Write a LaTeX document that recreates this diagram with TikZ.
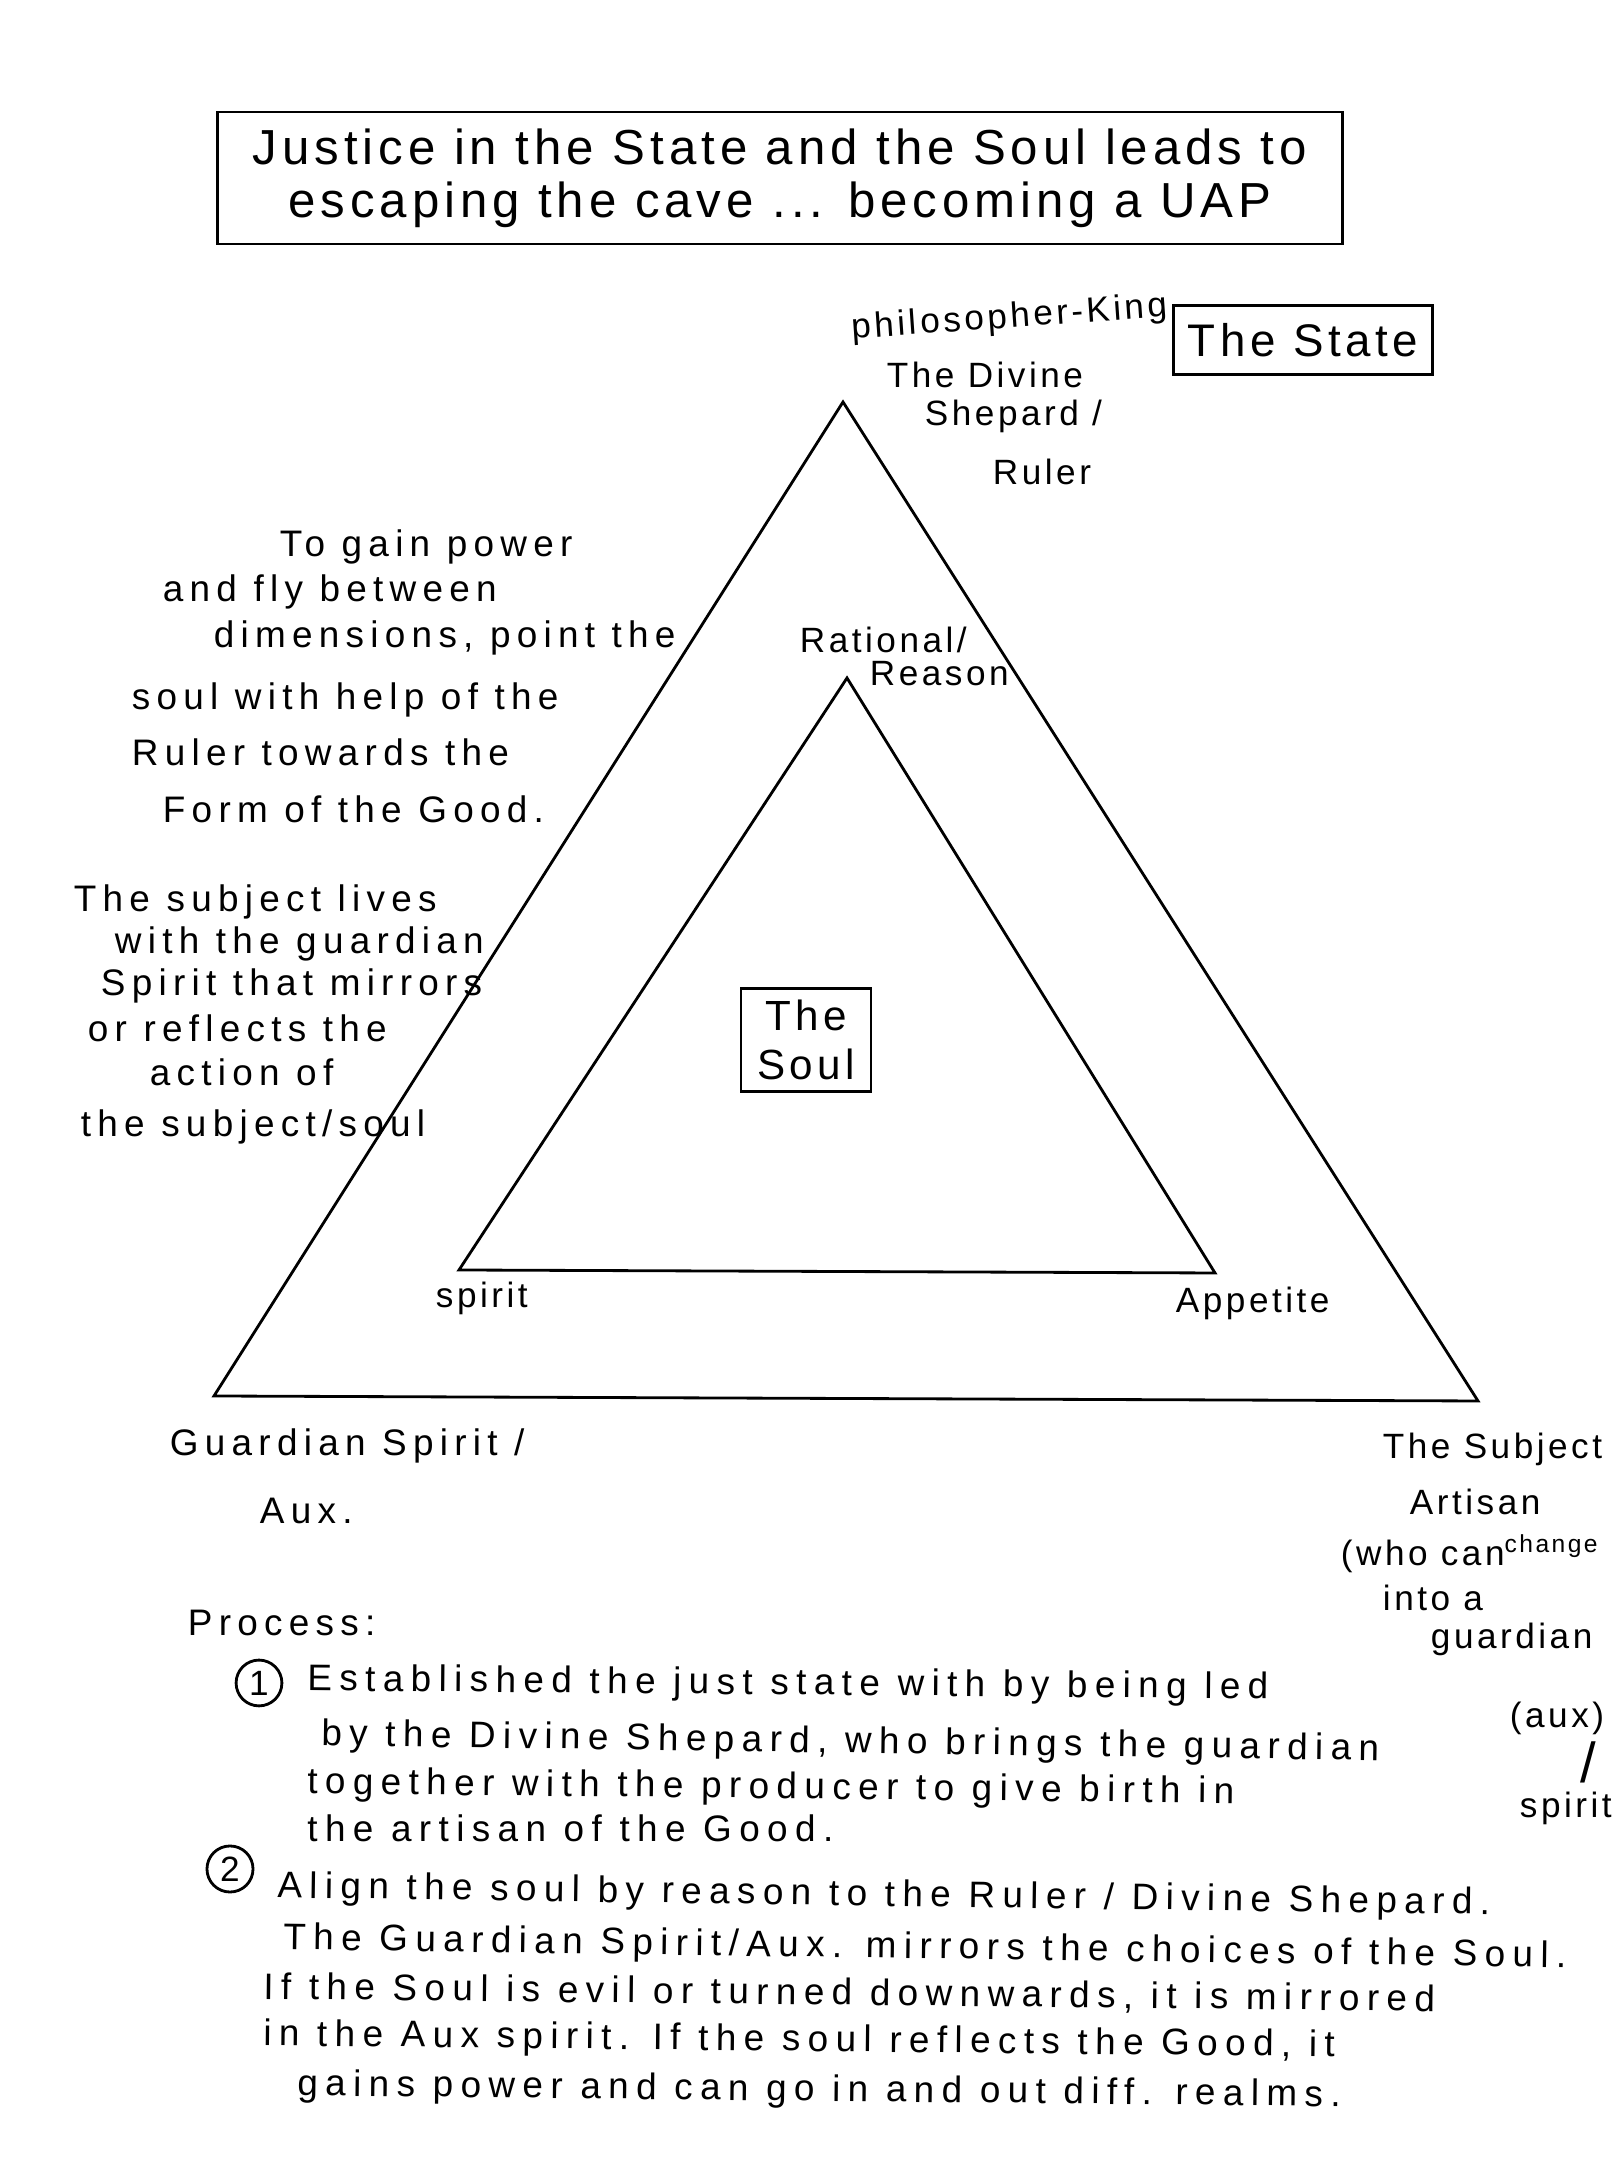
\documentclass[tikz,border=0pt]{standalone}
\usepackage{fontspec}
\setmainfont[LetterSpace=10]{Liberation Sans}
\newfontfamily\handfont[LetterSpace=17]{Liberation Sans}
\newfontfamily\longhand[LetterSpace=20]{Liberation Sans}
\usepackage{tikz}

\begin{document}
\begin{tikzpicture}[x=1cm,y=1cm,line width=0.8pt,
    note/.style={anchor=west,inner sep=0pt,font=\longhand\fontsize{10.5}{12}\selectfont},
    side note/.style={anchor=west,inner sep=1pt,font=\handfont\fontsize{10.5}{12}\selectfont},
    small note/.style={anchor=west,inner sep=1pt,font=\fontsize{10}{12}\selectfont},
    framed/.style={draw,align=center,inner sep=3pt}]

        \useasboundingbox (0,0) rectangle (16.2,21.6);

        % ------------------------------------------------ title
        \node[framed,minimum width=11.25cm,minimum height=1.32cm,
              font=\fontsize{14}{15}\selectfont] (title) at (7.8,19.82)
        {Justice in the State and the Soul leads to\\escaping the cave ... becoming a UAP};

        % ------------------------------------------------ the state (outer triangle)
        \coordinate (king)     at (8.43,17.58);
        \coordinate (guardian) at (2.14,7.64);
        \coordinate (subject)  at (14.78,7.59);
        \draw (king) -- (subject) -- (guardian) -- cycle;

        \node[framed,minimum width=2.59cm,minimum height=0.69cm,
              font=\fontsize{13}{15}\selectfont] (state) at (13.03,18.2) {The State};
        \node[small note,rotate=4] (philking) at (8.47,18.30) {philosopher-King};
        \node[small note] (divine)  at (8.82,17.85) {The Divine};
        \node[small note] (shepard) at (9.20,17.44) {Shepard /};
        \node[small note] (ruler)   at (9.88,16.88) {Ruler};

        % ------------------------------------------------ the soul (inner triangle)
        \coordinate (reason)   at (8.47,14.82);
        \coordinate (spirit)   at (4.59,8.90);
        \coordinate (appetite) at (12.15,8.87);
        \draw (reason) -- (appetite) -- (spirit) -- cycle;

        \node[framed,minimum width=1.3cm,minimum height=1.03cm,
              font=\fontsize{12}{14}\selectfont] (soul) at (8.06,11.2) {The\\Soul};
        \node[small note] (rational)  at (7.95,15.20) {Rational/};
        \node[small note] (reasonlbl) at (8.65,14.86) {Reason};
        \node[small note] (spiritlbl) at (4.31,8.62)  {spirit};
        \node[small note] (appetlbl)  at (11.71,8.57) {Appetite};

        % ------------------------------------------------ corner labels
        \node[side note] (guard1) at (1.65,7.14) {Guardian Spirit /};
        \node[side note] (guard2) at (2.55,6.49) {Aux.};

        \node[small note] (subj1) at (13.78,7.11) {The Subject};
        \node[small note] (subj2) at (14.05,6.58) {Artisan};
        \node[small note] (subj3) at (13.36,6.06) {(who can\textsuperscript{change}};
        \node[small note] (subj4) at (13.78,5.62) {into a};
        \node[small note] (subj5) at (14.26,5.21) {guardian};

        % ------------------------------------------------ side notes
        \node[side note] (gain1) at (2.75,16.13) {To gain power};
        \node[side note] (gain2) at (1.58,15.68) {and fly between};
        \node[side note] (gain3) at (2.09,15.22) {dimensions, point the};
        \node[side note] (gain4) at (1.27,14.60) {soul with help of the};
        \node[side note] (gain5) at (1.27,14.08) {Ruler towards the};
        \node[side note] (gain6) at (1.58,13.51) {Form of the Good.};

        \node[side note] (lives1) at (0.69,12.58) {The subject lives};
        \node[side note] (lives2) at (1.10,12.16) {with the guardian};
        \node[side note] (lives3) at (0.96,11.74) {Spirit that mirrors};
        \node[side note] (lives4) at (0.83,11.32) {or reflects the};
        \node[side note] (lives5) at (1.45,10.88) {action of};
        \node[side note] (lives6) at (0.76,10.33) {the subject/soul};

        % ------------------------------------------------ process
        \node[side note] (process) at (1.83,5.37) {Process:};

        \node[draw,circle,inner sep=1.5pt,font=\fontsize{10}{10}\selectfont] (one) at (2.59,4.77) {1};
        \node[note,rotate=-0.5] (step1a) at (3.06,4.79) {Established the just state with by being led};
        \node[note,rotate=-0.8] (step1b) at (3.20,4.24) {by the Divine Shepard, who brings the guardian};
        \node[note,rotate=-0.6] (step1c) at (3.06,3.76) {together with the producer to give birth in};
        \node[note]             (step1d) at (3.06,3.32) {the artisan of the Good.};
        \node[small note] (aux)    at (15.05,4.42) {(aux)};
        \node[small note,font=\fontsize{16}{16}\selectfont] (slash) at (15.76,3.98) {/};
        \node[small note] (spirit2) at (15.15,3.52) {spirit};

        \node[draw,circle,inner sep=1.5pt,font=\fontsize{10}{10}\selectfont] (two) at (2.30,2.91) {2};
        \node[note,rotate=-0.8] (step2a) at (2.76,2.72) {Align the soul by reason to the Ruler / Divine Shepard.};
        \node[note,rotate=-0.8] (step2b) at (2.82,2.20) {The Guardian Spirit/Aux. mirrors the choices of the Soul.};
        \node[note,rotate=-0.6] (step2c) at (2.62,1.72) {If the Soul is evil or turned downwards, it is mirrored};
        \node[note,rotate=-0.6] (step2d) at (2.62,1.24) {in the Aux spirit. If the soul reflects the Good, it};
        \node[note,rotate=-0.6] (step2e) at (2.96,0.74) {gains power and can go in and out diff. realms.};

\end{tikzpicture}
\end{document}
